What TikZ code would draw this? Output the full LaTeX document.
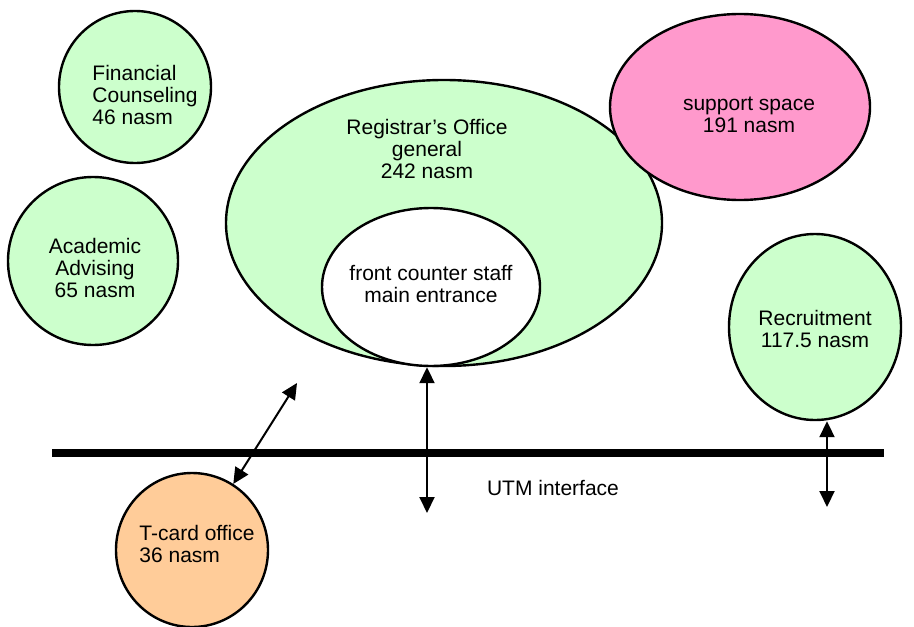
\documentclass[tikz,border=0pt]{standalone}
\usepackage{fontspec}
\setmainfont{Liberation Sans}
\usetikzlibrary{shapes.geometric,arrows.meta}
\definecolor{roomgreen}{HTML}{CCFFCC}
\definecolor{roompink}{HTML}{FF99CC}
\definecolor{roomorange}{HTML}{FFCC99}
\begin{document}
\begin{tikzpicture}[x=0.5pt,y=-0.5pt]
\tikzstyle{every node}+=[inner sep=0pt, font=\fontsize{10.5}{11.2}\selectfont]
\tikzstyle{room}=[ellipse, draw=black, line width=1.2pt]
\tikzstyle{link}=[black, line width=1pt, {Triangle[length=8pt,width=7.5pt]}-{Triangle[length=8pt,width=7.5pt]}]
\useasboundingbox (0,0) rectangle (914,626);
% rooms
\node [room, fill=roomgreen, minimum width=76pt, minimum height=76pt] (fin) at (135,87) {};
\node [align=left] (fintext) at (145,95) {Financial\\Counseling\\46 nasm};
\node [room, fill=roomgreen, minimum width=85pt, minimum height=84pt] (acad) at (93,261) {};
\node [align=center] (acadtext) at (95,268) {Academic\\Advising\\65 nasm};
\node [room, fill=roomgreen, minimum width=218pt, minimum height=143pt] (reg) at (444,223) {};
\node [align=center] (regtext) at (427,149) {Registrar's Office\\general\\242 nasm};
\node [room, fill=white, minimum width=109pt, minimum height=79pt] (front) at (431,287) {};
\node [align=center] (fronttext) at (431,284) {front counter staff\\main entrance};
\node [room, fill=roompink, minimum width=130pt, minimum height=93pt] (supp) at (740,107) {};
\node [align=center] (supptext) at (749,115) {support space\\191 nasm};
\node [room, fill=roomgreen, minimum width=86pt, minimum height=93pt] (rec) at (815,327) {};
\node [align=center] (rectext) at (815,329) {Recruitment\\117.5 nasm};
\node [room, fill=roomorange, minimum width=76pt, minimum height=77pt] (tcard) at (192,550) {};
\node [align=left] (tcardtext) at (197,544) {T-card office\\36 nasm};
% interface line
\coordinate (busL) at (52,453);
\coordinate (busR) at (884,453);
\draw [black, line width=4pt] (busL) -- (busR);
\node (utm) at (553,488) {UTM interface};
% links
\coordinate (utmA) at (297,383);
\coordinate (utmB) at (427,513);
\coordinate (utmC) at (827,507);
\draw [link] (utmA) -- (tcard.58);
\draw [link] (utmB) -- (utmB |- reg.south);
\draw [link] (utmC) -- (utmC |- rec.south);
\end{tikzpicture}
\end{document}
